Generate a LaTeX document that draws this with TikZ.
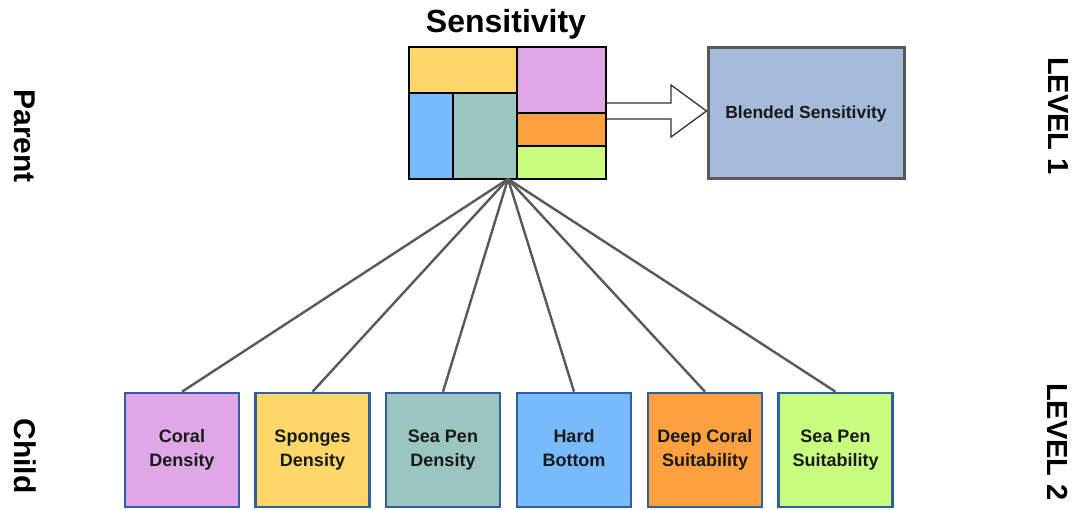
\documentclass[tikz,border=0pt]{standalone}
\usepackage{fontspec}
\setmainfont{Liberation Sans}
\begin{document}
\begin{tikzpicture}[x=1pt,y=-1pt,
  childbox/.style={draw=cborder, line width=2.6pt, minimum width=114pt, minimum height=114pt, inner sep=0pt, align=center, font=\bfseries\fontsize{18}{24}\selectfont, text=black!90},
  conn/.style={draw=black!65, line width=2.4pt},
  cell/.style={draw=black, line width=1.2pt},
  sidelabel/.style={font=\bfseries\fontsize{30}{34}\selectfont, rotate=-90, anchor=center}
]
\definecolor{cborder}{HTML}{2F5F9E}
\definecolor{cyellow}{HTML}{FDD767}
\definecolor{cpink}{HTML}{DFA7E6}
\definecolor{cblue}{HTML}{78BBFD}
\definecolor{cteal}{HTML}{9BC6C0}
\definecolor{corange}{HTML}{FDA040}
\definecolor{cgreen}{HTML}{C8FD80}
\definecolor{cblend}{HTML}{A4BBD9}
\useasboundingbox (0,0) rectangle (1073,510);

% title
\node[font=\bfseries\fontsize{32}{38}\selectfont] (title) at (506,24) {Sensitivity};

% treemap cells
\filldraw[cell, fill=cyellow] (409,47) rectangle (517,93);
\filldraw[cell, fill=cblue] (409,93) rectangle (453,179);
\filldraw[cell, fill=cteal] (453,93) rectangle (517,179);
\filldraw[cell, fill=cpink] (517,47) rectangle (606,113);
\filldraw[cell, fill=corange] (517,113) rectangle (606,146);
\filldraw[cell, fill=cgreen] (517,146) rectangle (606,179);
\node[draw=black, line width=2pt, minimum width=197pt, minimum height=132pt, inner sep=0pt] (tm) at (507.5,113) {};

% blended box
\node[draw=black!65, fill=cblend, line width=3pt, minimum width=196pt, minimum height=131pt, inner sep=0pt, font=\bfseries\fontsize{17.5}{21}\selectfont, text=black!90] (blend) at (806,113.5) {Blended Sensitivity};

% block arrow
\filldraw[draw=black!80, fill=white, line width=1.3pt, line join=miter]
  (tm.east |- 0,103) -- (671,103) -- (671,85) -- (blend.west |- 0,111) -- (671,137) -- (671,119) -- (tm.east |- 0,119);

% children
\node[childbox, fill=cpink]   (c1) at (182,450) {\strut Coral\\\strut Density};
\node[childbox, fill=cyellow] (c2) at (312.5,450) {\strut Sponges\\\strut Density};
\node[childbox, fill=cteal]   (c3) at (443,450) {\strut Sea Pen\\\strut Density};
\node[childbox, fill=cblue]   (c4) at (574,450) {\strut Hard\\\strut Bottom};
\node[childbox, fill=corange] (c5) at (705,450) {\strut Deep Coral\\\strut Suitability};
\node[childbox, fill=cgreen]  (c6) at (835.5,450) {\strut Sea Pen\\\strut Suitability};

% connectors
\coordinate (apex) at (508,179);
\foreach \c in {c1,c2,c3,c4,c5,c6} {
  \draw[conn] (apex) -- (\c.north);
}

% side labels
\node[sidelabel] (parent) at (25,136) {Parent};
\node[sidelabel] (child) at (25,456) {Child};
\node[sidelabel, font=\bfseries\fontsize{29}{34}\selectfont] (lv1) at (1058,116) {LEVEL 1};
\node[sidelabel, font=\bfseries\fontsize{29}{34}\selectfont] (lv2) at (1058,442) {LEVEL 2};
\end{tikzpicture}
\end{document}
